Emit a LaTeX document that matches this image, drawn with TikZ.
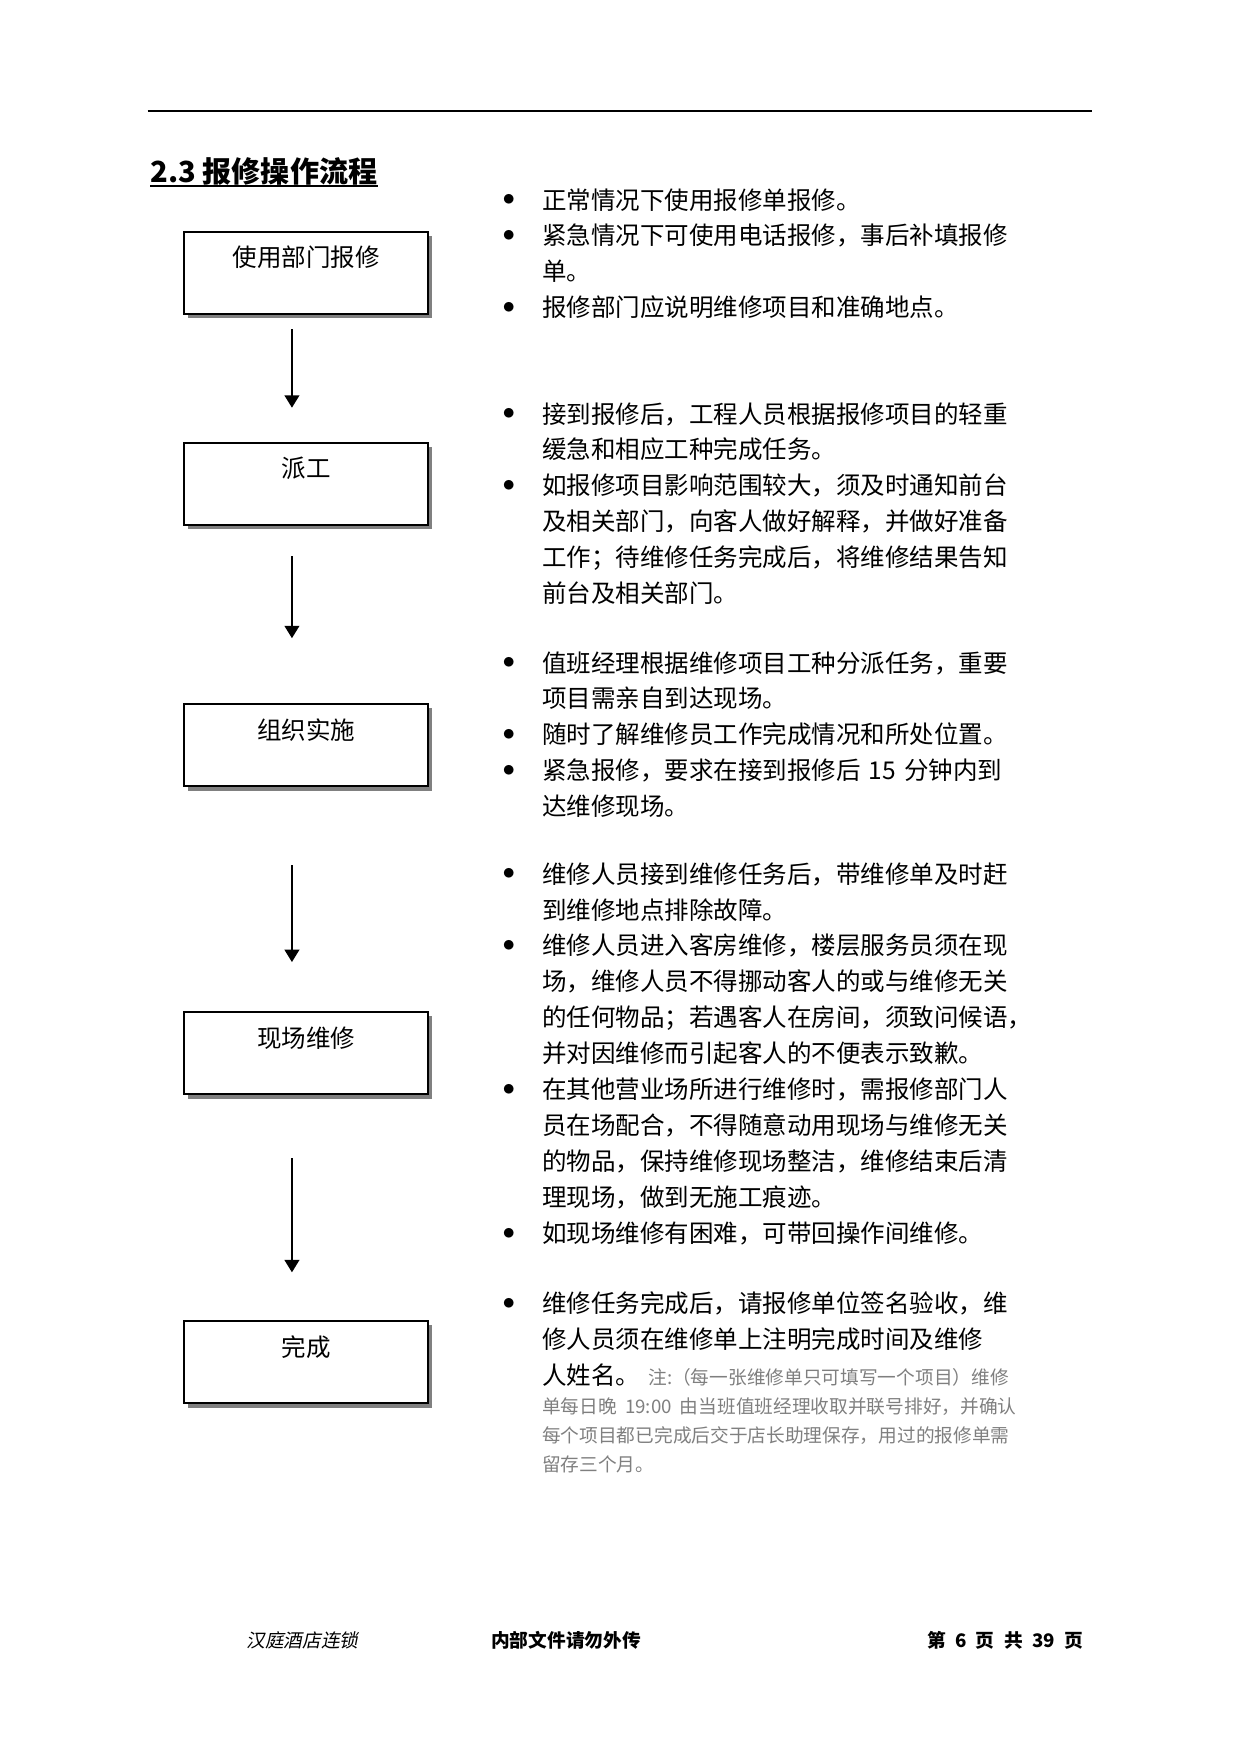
\documentclass[tikz,border=0pt]{standalone}
\usepackage{fontspec}
\setmainfont{Noto Sans CJK SC}[AutoFakeSlant=0.2]
\usetikzlibrary{arrows.meta,shadows}
\definecolor{noteGray}{HTML}{7F7F7F}
\newlength\bulind
\setlength\bulind{19pt}
\newcommand\bfirst{\hangindent=\bulind\hangafter=1\makebox[\bulind][l]{\raisebox{1.5pt}{$\bullet$}}}
\newcommand\bitem{\par\noindent\bfirst}
\newcommand\notefont{\fontsize{9}{14}\selectfont\color{noteGray}}

\begin{document}
\begin{tikzpicture}[font=\fontsize{11.8}{17.3}\selectfont,
  stepbox/.style={rectangle, draw=black, line width=1pt, fill=white, inner sep=0pt,
    minimum width=4.13cm, text height=0.59cm, text depth=0.80cm, anchor=north west,
    drop shadow={shadow xshift=2pt, shadow yshift=-2pt, fill=black!50, opacity=1}},
  notes/.style={text width=9cm, align=left, inner sep=0pt, anchor=base west},
  foot/.style={inner sep=0pt, font=\fontsize{9}{11}\selectfont},
  flowarr/.style={-{Triangle[length=6pt,width=7pt]}, line width=1.2pt}]
  \useasboundingbox (0,0) rectangle (21,-29.68);
  \coordinate (rl) at (2.50,-1.878);
  \coordinate (rr) at (18.48,-1.878);
  \draw[line width=1pt] (rl) -- (rr);
  \node[anchor=base west, inner sep=0pt, font=\fontsize{14}{16}\selectfont\bfseries] (title)
    at (2.54,-3.08) {2.3 报修操作流程};
  \draw[line width=1pt] ([yshift=-2pt]title.base west) -- ([yshift=-2pt]title.base east);

  \node[stepbox] (s1) at (3.10,-3.91) {使用部门报修};
  \node[stepbox] (s2) at (3.10,-7.48) {派工};
  \node[stepbox] (s3) at (3.10,-11.90) {组织实施};
  \node[stepbox] (s4) at (3.10,-17.11) {现场维修};
  \node[stepbox] (s5) at (3.10,-22.34) {完成};

  \coordinate (a1) at (4.94,-5.57);  \coordinate (b1) at (4.94,-6.90);
  \coordinate (a2) at (4.94,-9.41);  \coordinate (b2) at (4.94,-10.80);
  \coordinate (a3) at (4.94,-14.64); \coordinate (b3) at (4.94,-16.28);
  \coordinate (a4) at (4.94,-19.60); \coordinate (b4) at (4.94,-21.53);
  \draw[flowarr] (a1) -- (b1);
  \draw[flowarr] (a2) -- (b2);
  \draw[flowarr] (a3) -- (b3);
  \draw[flowarr] (a4) -- (b4);

  \node[notes] (n1) at (8.50,-3.537)
    {\bfirst 正常情况下使用报修单报修。
     \bitem 紧急情况下可使用电话报修，事后补填报修\newline 单。
     \bitem 报修部门应说明维修项目和准确地点。\par};
  \node[notes] (n2) at (8.50,-7.158)
    {\bfirst 接到报修后，工程人员根据报修项目的轻重\newline 缓急和相应工种完成任务。
     \bitem 如报修项目影响范围较大，须及时通知前台\newline 及相关部门，向客人做好解释，并做好准备\newline
       工作；待维修任务完成后，将维修结果告知\newline 前台及相关部门。\par};
  \node[notes] (n3) at (8.50,-11.372)
    {\bfirst 值班经理根据维修项目工种分派任务，重要\newline 项目需亲自到达现场。
     \bitem 随时了解维修员工作完成情况和所处位置。
     \bitem 紧急报修，要求在接到报修后 15 分钟内到\newline 达维修现场。\par};
  \node[notes] (n4) at (8.50,-14.943)
    {\bfirst 维修人员接到维修任务后，带维修单及时赶\newline 到维修地点排除故障。
     \bitem 维修人员进入客房维修，楼层服务员须在现\newline 场，维修人员不得挪动客人的或与维修无关\newline
       的任何物品；若遇客人在房间，须致问候语，\newline 并对因维修而引起客人的不便表示致歉。
     \bitem 在其他营业场所进行维修时，需报修部门人\newline 员在场配合，不得随意动用现场与维修无关\newline
       的物品，保持维修现场整洁，维修结束后清\newline 理现场，做到无施工痕迹。
     \bitem 如现场维修有困难，可带回操作间维修。\par};
  \node[notes] (n5) at (8.50,-22.203)
    {\bfirst 维修任务完成后，请报修单位签名验收，维\newline 修人员须在维修单上注明完成时间及维修\newline
       人姓名。 {\notefont 注:（每一张维修单只可填写一个项目）维修}\par
     {\notefont\leftskip=\bulind 单每日晚 19:00 由当班值班经理收取并联号排好，并确认\newline
       每个项目都已完成后交于店长助理保存，用过的报修单需\newline 留存三个月。\par}};

  \node[foot, anchor=base west, font=\fontsize{9}{11}\selectfont\itshape] (f1) at (4.163,-27.87) {汉庭酒店连锁};
  \node[foot, anchor=base, font=\fontsize{9}{11}\selectfont\bfseries] (f2) at (9.578,-27.87) {内部文件请勿外传};
  \node[foot, anchor=base east, font=\fontsize{9}{11}\selectfont\bfseries\itshape] (f3) at (18.33,-27.87)
    {第\hspace{0.5em}6\hspace{0.5em}页\hspace{0.5em}共\hspace{0.5em}39\hspace{0.5em}页};
\end{tikzpicture}
\end{document}
